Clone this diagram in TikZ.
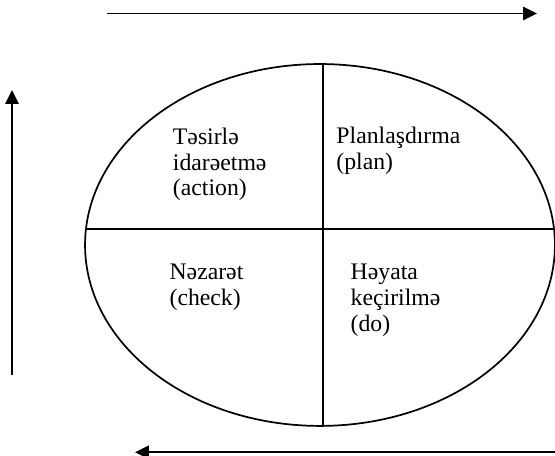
\documentclass[tikz,border=0pt]{standalone}
\usepackage{fontspec}
\setmainfont{Liberation Serif}
\usepackage{tikz}
\usetikzlibrary{shapes.geometric, arrows.meta, positioning}

\tikzset{
  phase/.style={anchor=north west, inner sep=0pt, align=left,
                font=\fontsize{18}{19.5}\selectfont},
  flow/.style={line width=1.3pt, -{Triangle[length=10.5pt, width=10pt]}}
}

\begin{document}
\begin{tikzpicture}[line width=1.3pt]
\useasboundingbox (0,0) rectangle (14.8,12.16);

% Cycle ellipse
\node[draw, ellipse, minimum width=12.53cm, minimum height=9.65cm,
      inner sep=0pt, outer sep=0pt] (ring) at (8.533,5.627) {};

% Quadrant dividers
\coordinate (midW) at (2.29,6.053);
\coordinate (midE) at (14.776,6.053);
\draw (midW) -- (midE);
\draw (ring.89) -- (ring.271);

% Quadrant labels
\node[phase] (act) at (4.59,8.77) {Təsirlə\\idarəetmə\\(action)};
\node[phase] (plan) at (8.95,8.80) {Planlaşdırma\\(plan)};
\node[phase] (chk) at (4.50,5.14) {Nəzarət\\(check)};
\node[phase] (do) at (9.33,5.14) {Həyata\\keçirilmə\\(do)};

% Outer arrows
\coordinate (topA) at (2.853,11.80);
\coordinate (topB) at (14.32,11.80);
\coordinate (leftA) at (0.32,2.16);
\coordinate (leftB) at (0.32,9.76);
\coordinate (botA) at (14.8,0.10);
\coordinate (botB) at (3.60,0.10);
\draw[flow] (topA) -- (topB);
\draw[flow] (leftA) -- (leftB);
\draw[flow] (botA) -- (botB);

\end{tikzpicture}
\end{document}
